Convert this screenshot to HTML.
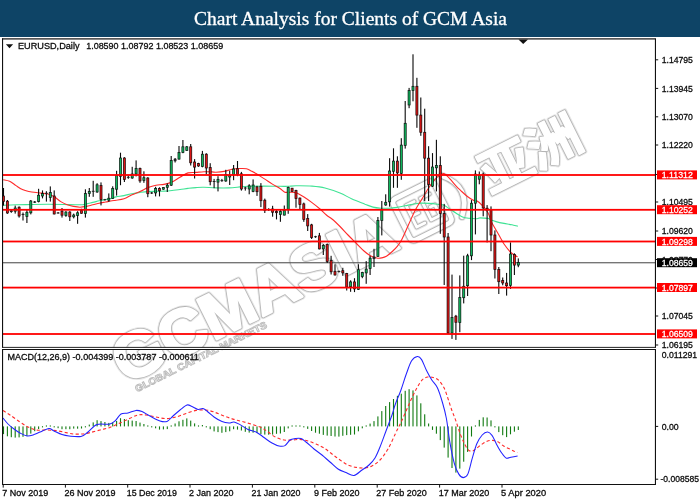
<!DOCTYPE html>
<html lang="en"><head><meta charset="utf-8"><title>Chart Analysis for Clients of GCM Asia</title>
<style>
html,body{margin:0;padding:0;background:#fff;}
body{width:700px;height:500px;overflow:hidden;position:relative;font-family:"Liberation Sans","Noto Sans CJK SC",sans-serif;}
#hdr{position:absolute;left:0;top:0;width:700px;height:36.6px;background:#0e4466;}
svg{position:absolute;left:0;top:0;}
.ax{font-family:"Liberation Sans",sans-serif;font-size:8.6px;fill:#0c0c0c;stroke:#0c0c0c;stroke-width:0.28px;}
.t{font-family:"Liberation Serif",serif;font-size:19px;fill:#fff;stroke:#fff;stroke-width:0.3px;}
.wm{font-family:"Liberation Sans","Noto Sans CJK TC",sans-serif;font-weight:bold;}
.cj{font-family:"Noto Sans CJK SC","Noto Sans CJK TC",sans-serif;font-weight:700;}
</style></head><body>
<div id="hdr"></div>
<svg width="700" height="500" viewBox="0 0 700 500">

<text class="t" x="194" y="25" textLength="313" lengthAdjust="spacingAndGlyphs">Chart Analysis for Clients of GCM Asia</text>
<g class="wm" transform="translate(125.5,384.6) rotate(-26.5)">
<g fill="none" stroke="#e6e6e6" stroke-linejoin="round">
<text x="0" y="0" font-size="63.5" stroke-width="6" textLength="308" lengthAdjust="spacingAndGlyphs">GCMASIA</text>
<text class="cj" x="0" y="-8" font-size="50" stroke-width="4.6" text-anchor="middle" transform="translate(438,0) scale(1.07,1)">亚</text>
<text class="cj" x="0" y="-8" font-size="50" stroke-width="4.6" text-anchor="middle" transform="translate(491.5,0) scale(1.09,1)">洲</text>
</g>
<path d="M325,-46 H361 Q366,-46 366,-41 V-5 Q366,0 361,0 H325 Q320,0 320,-5 V-41 Q320,-46 325,-46 Z" fill="none" stroke="#e6e6e6" stroke-width="8.2" stroke-linecap="round" stroke-linejoin="round"/>
<path d="M340,-35 H331 V-11 H340 M331,-23 H339" fill="none" stroke="#e6e6e6" stroke-width="6.4" stroke-linecap="round" stroke-linejoin="round"/>
<path d="M357,-35 H347 V-11 H357 V-23 H352" fill="none" stroke="#e6e6e6" stroke-width="6.4" stroke-linecap="round" stroke-linejoin="round"/>
<path d="M376,-46 Q398,-23 376,0" fill="none" stroke="#e6e6e6" stroke-width="8.2" stroke-linecap="round" stroke-linejoin="round"/>
<g fill="none" stroke="#b4b4b4" stroke-linejoin="round">
<text x="0" y="0" font-size="63.5" stroke-width="4.2" textLength="308" lengthAdjust="spacingAndGlyphs">GCMASIA</text>
<text class="cj" x="0" y="-8" font-size="50" stroke-width="2.8" text-anchor="middle" transform="translate(438,0) scale(1.07,1)">亚</text>
<text class="cj" x="0" y="-8" font-size="50" stroke-width="2.8" text-anchor="middle" transform="translate(491.5,0) scale(1.09,1)">洲</text>
</g>
<path d="M325,-46 H361 Q366,-46 366,-41 V-5 Q366,0 361,0 H325 Q320,0 320,-5 V-41 Q320,-46 325,-46 Z" fill="none" stroke="#b4b4b4" stroke-width="6.4" stroke-linecap="round" stroke-linejoin="round"/>
<path d="M340,-35 H331 V-11 H340 M331,-23 H339" fill="none" stroke="#b4b4b4" stroke-width="4.6" stroke-linecap="round" stroke-linejoin="round"/>
<path d="M357,-35 H347 V-11 H357 V-23 H352" fill="none" stroke="#b4b4b4" stroke-width="4.6" stroke-linecap="round" stroke-linejoin="round"/>
<path d="M376,-46 Q398,-23 376,0" fill="none" stroke="#b4b4b4" stroke-width="6.4" stroke-linecap="round" stroke-linejoin="round"/>
<g fill="#fff" stroke="#fff" stroke-linejoin="round">
<text x="0" y="0" font-size="63.5" stroke-width="2.6" textLength="308" lengthAdjust="spacingAndGlyphs">GCMASIA</text>
<text class="cj" x="0" y="-8" font-size="50" stroke-width="1.2" text-anchor="middle" transform="translate(438,0) scale(1.07,1)">亚</text>
<text class="cj" x="0" y="-8" font-size="50" stroke-width="1.2" text-anchor="middle" transform="translate(491.5,0) scale(1.09,1)">洲</text>
</g>
<path d="M325,-46 H361 Q366,-46 366,-41 V-5 Q366,0 361,0 H325 Q320,0 320,-5 V-41 Q320,-46 325,-46 Z" fill="none" stroke="#fff" stroke-width="4.6" stroke-linecap="round" stroke-linejoin="round"/>
<path d="M340,-35 H331 V-11 H340 M331,-23 H339" fill="none" stroke="#fff" stroke-width="2.8" stroke-linecap="round" stroke-linejoin="round"/>
<path d="M357,-35 H347 V-11 H357 V-23 H352" fill="none" stroke="#fff" stroke-width="2.8" stroke-linecap="round" stroke-linejoin="round"/>
<path d="M376,-46 Q398,-23 376,0" fill="none" stroke="#fff" stroke-width="4.6" stroke-linecap="round" stroke-linejoin="round"/>
<text x="7" y="12" font-size="9.5" fill="#fff" stroke="#bdbdbd" stroke-width="0.9" textLength="146" lengthAdjust="spacingAndGlyphs">GLOBAL CAPITAL MARKETS</text>
</g>
<path d="M3.2,205.3 C5.3,205.2 11.2,204.9 16.0,204.8 C20.8,204.7 26.7,204.6 32.0,204.5 C37.3,204.4 42.7,204.3 48.0,204.3 C53.3,204.3 58.7,204.4 64.0,204.5 C69.3,204.6 76.3,204.9 80.0,204.8 C83.7,204.7 84.3,204.4 86.4,204.0 C88.5,203.6 90.7,202.9 92.8,202.4 C94.9,201.9 97.1,201.3 99.2,200.8 C101.3,200.3 103.5,199.9 105.6,199.5 C107.7,199.1 110.3,198.6 112.0,198.2 C113.7,197.8 114.0,197.3 116.0,196.9 C118.0,196.5 121.3,196.1 124.0,195.6 C126.7,195.1 129.3,194.2 132.0,193.7 C134.7,193.2 137.3,192.8 140.0,192.4 C142.7,192.1 145.3,191.8 148.0,191.6 C150.7,191.4 153.3,191.4 156.0,191.3 C158.7,191.2 161.3,191.2 164.0,191.1 C166.7,191.0 169.3,190.8 172.0,190.5 C174.7,190.2 177.3,189.8 180.0,189.5 C182.7,189.2 185.3,188.7 188.0,188.4 C190.7,188.1 193.3,187.8 196.0,187.6 C198.7,187.4 200.7,187.2 204.0,187.3 C207.3,187.4 211.9,187.8 216.0,187.9 C220.1,188.0 224.8,188.1 228.8,187.9 C232.8,187.7 236.8,187.2 240.0,186.9 C243.2,186.6 244.0,186.4 248.0,186.3 C252.0,186.2 258.7,186.1 264.0,186.1 C269.3,186.1 276.0,186.3 280.0,186.3 C284.0,186.3 285.3,186.4 288.0,186.3 C290.7,186.2 292.0,185.8 296.0,185.8 C300.0,185.8 307.2,185.7 312.0,186.1 C316.8,186.5 320.3,186.8 325.0,188.0 C329.7,189.2 335.5,191.2 340.0,193.0 C344.5,194.8 347.8,197.1 352.0,199.0 C356.2,200.9 361.5,202.8 365.0,204.2 C368.5,205.5 370.3,206.4 373.0,207.1 C375.7,207.8 378.3,208.0 381.0,208.2 C383.7,208.4 386.3,208.3 389.0,208.2 C391.7,208.1 394.3,207.8 397.0,207.4 C399.7,207.0 402.3,206.3 405.0,205.8 C407.7,205.3 410.3,204.6 413.0,204.2 C415.7,203.8 418.3,203.2 421.0,203.1 C423.7,203.0 426.3,203.2 429.0,203.4 C431.7,203.6 434.6,203.9 437.0,204.2 C439.4,204.5 441.3,204.2 443.4,205.0 C445.5,205.8 447.7,207.6 449.8,209.0 C451.9,210.4 454.1,212.0 456.2,213.3 C458.3,214.6 460.5,216.2 462.6,217.0 C464.7,217.8 466.6,218.0 469.0,218.3 C471.4,218.6 475.2,218.8 477.0,218.7 C478.8,218.6 478.2,217.9 480.0,217.9 C481.8,217.9 486.1,218.1 488.0,218.4 C489.9,218.8 489.9,219.5 491.2,220.0 C492.5,220.5 493.9,221.0 496.0,221.6 C498.1,222.2 501.3,222.9 504.0,223.4 C506.7,223.9 509.7,224.3 512.0,224.8 C514.3,225.3 516.9,226.1 517.9,226.3" fill="none" stroke="#3fe394" stroke-width="1.1" stroke-linejoin="round"/>
<path d="M3.2,179.7 C4.3,180.0 7.5,180.3 9.6,181.3 C11.7,182.3 13.9,184.2 16.0,185.6 C18.1,187.0 20.3,188.6 22.4,189.6 C24.5,190.6 26.1,191.0 28.8,191.5 C31.5,192.0 35.2,192.4 38.4,192.8 C41.6,193.2 45.3,193.3 48.0,194.0 C50.7,194.7 52.3,195.5 54.4,196.8 C56.5,198.1 58.7,200.3 60.8,201.6 C62.9,202.9 65.1,204.0 67.2,204.8 C69.3,205.6 71.5,206.0 73.6,206.4 C75.7,206.8 77.9,207.2 80.0,207.2 C82.1,207.2 84.3,206.8 86.4,206.4 C88.5,206.0 90.7,205.3 92.8,204.8 C94.9,204.3 97.1,203.7 99.2,203.2 C101.3,202.7 103.5,202.4 105.6,202.0 C107.7,201.6 110.3,201.0 112.0,200.7 C113.7,200.4 114.0,200.5 116.0,200.2 C118.0,199.9 121.3,199.7 124.0,198.8 C126.7,197.9 129.3,196.0 132.0,194.8 C134.7,193.6 137.3,192.8 140.0,191.6 C142.7,190.4 145.3,188.7 148.0,187.6 C150.7,186.5 153.3,185.7 156.0,185.2 C158.7,184.7 161.3,184.9 164.0,184.4 C166.7,183.9 169.3,183.2 172.0,182.0 C174.7,180.8 177.3,178.7 180.0,177.2 C182.7,175.7 185.3,173.7 188.0,172.9 C190.7,172.1 193.3,172.6 196.0,172.4 C198.7,172.2 201.3,171.9 204.0,171.8 C206.7,171.7 210.0,171.8 212.0,171.9 C214.0,172.0 214.0,172.3 216.0,172.2 C218.0,172.1 221.3,171.9 224.0,171.4 C226.7,170.9 229.3,169.8 232.0,169.3 C234.7,168.8 237.6,168.6 240.0,168.5 C242.4,168.4 244.5,168.3 246.4,168.7 C248.3,169.1 249.6,170.1 251.2,170.9 C252.8,171.7 253.9,172.2 256.0,173.5 C258.1,174.8 261.3,176.9 264.0,178.6 C266.7,180.3 269.3,182.2 272.0,183.9 C274.7,185.6 277.9,187.1 280.0,188.5 C282.1,189.9 283.2,191.6 284.8,192.2 C286.4,192.8 287.7,192.1 289.6,192.2 C291.5,192.3 293.6,191.9 296.0,192.7 C298.4,193.5 301.3,195.3 304.0,197.0 C306.7,198.7 309.3,200.6 312.0,202.6 C314.7,204.6 317.6,206.9 320.0,209.0 C322.4,211.1 324.4,213.3 326.4,215.0 C328.4,216.7 329.7,217.1 332.0,219.0 C334.3,220.9 337.3,223.8 340.0,226.5 C342.7,229.2 345.3,232.2 348.0,235.0 C350.7,237.8 353.3,240.3 356.0,243.0 C358.7,245.7 361.6,248.9 364.0,251.0 C366.4,253.1 368.3,254.6 370.4,255.8 C372.5,257.0 374.9,257.6 376.8,258.0 C378.7,258.4 380.0,258.2 381.6,257.9 C383.2,257.6 384.5,257.4 386.4,256.3 C388.3,255.2 391.0,252.6 392.8,251.0 C394.6,249.4 395.5,248.5 397.0,246.6 C398.5,244.7 399.9,243.0 401.8,239.4 C403.7,235.8 406.1,230.0 408.4,225.0 C410.7,220.0 413.4,213.8 415.6,209.6 C417.8,205.4 419.4,203.2 421.6,199.6 C423.8,196.0 426.6,191.1 428.8,187.8 C431.0,184.5 433.0,181.7 434.8,179.6 C436.6,177.5 438.1,176.2 439.6,175.2 C441.1,174.2 442.4,173.5 443.6,173.6 C444.8,173.7 445.9,174.8 447.0,175.8 C448.1,176.8 448.8,177.6 450.4,179.4 C452.0,181.2 454.6,184.5 456.4,186.4 C458.2,188.3 459.2,189.1 461.0,190.8 C462.8,192.5 465.3,194.9 467.4,196.5 C469.5,198.1 472.2,199.8 473.8,200.5 C475.4,201.2 475.7,200.3 477.0,201.0 C478.3,201.7 479.8,202.8 481.6,204.8 C483.4,206.8 486.4,210.0 488.0,212.8 C489.6,215.6 490.1,219.2 491.2,221.6 C492.3,224.0 493.3,225.3 494.4,227.2 C495.5,229.1 496.5,230.9 497.6,232.8 C498.7,234.7 499.7,236.5 500.8,238.4 C501.9,240.3 502.4,241.7 504.0,244.0 C505.6,246.3 508.5,250.1 510.4,252.0 C512.3,253.9 514.0,254.7 515.2,255.5 C516.4,256.3 517.2,256.6 517.6,256.8" fill="none" stroke="#ff2a2a" stroke-width="1.1" stroke-linejoin="round"/>
<rect x="3" y="262.2" width="652" height="1.1" fill="#555"/>
<g>
<rect x="2.95" y="188.0" width="1.1" height="17.6" fill="#0a0a0a"/>
<rect x="2.45" y="196.0" width="2.1" height="5.6" fill="#e01616" stroke="#000" stroke-opacity="0.85" stroke-width="0.75"/>
<rect x="6.85" y="200.0" width="1.1" height="13.8" fill="#0a0a0a"/>
<rect x="6.35" y="201.2" width="2.1" height="11.8" fill="#e01616" stroke="#000" stroke-opacity="0.85" stroke-width="0.75"/>
<rect x="10.75" y="209.6" width="1.1" height="3.2" fill="#0a0a0a"/>
<rect x="9.90" y="210.4" width="2.8" height="1.6" fill="#222"/>
<rect x="14.65" y="205.6" width="1.1" height="8.0" fill="#0a0a0a"/>
<rect x="14.15" y="208.0" width="2.1" height="3.2" fill="#10b85e" stroke="#000" stroke-opacity="0.85" stroke-width="0.75"/>
<rect x="18.55" y="206.4" width="1.1" height="11.2" fill="#0a0a0a"/>
<rect x="18.05" y="207.2" width="2.1" height="8.8" fill="#e01616" stroke="#000" stroke-opacity="0.85" stroke-width="0.75"/>
<rect x="22.45" y="212.5" width="1.1" height="8.0" fill="#0a0a0a"/>
<rect x="21.60" y="214.0" width="2.8" height="1.0" fill="#222"/>
<rect x="26.35" y="210.0" width="1.1" height="13.0" fill="#0a0a0a"/>
<rect x="25.85" y="212.3" width="2.1" height="4.2" fill="#10b85e" stroke="#000" stroke-opacity="0.85" stroke-width="0.75"/>
<rect x="30.25" y="200.0" width="1.1" height="14.4" fill="#0a0a0a"/>
<rect x="29.75" y="201.0" width="2.1" height="11.8" fill="#10b85e" stroke="#000" stroke-opacity="0.85" stroke-width="0.75"/>
<rect x="34.15" y="201.0" width="1.1" height="2.0" fill="#0a0a0a"/>
<rect x="33.30" y="201.5" width="2.8" height="1.2" fill="#222"/>
<rect x="38.05" y="188.8" width="1.1" height="13.6" fill="#0a0a0a"/>
<rect x="37.55" y="195.2" width="2.1" height="6.4" fill="#10b85e" stroke="#000" stroke-opacity="0.85" stroke-width="0.75"/>
<rect x="41.95" y="190.4" width="1.1" height="8.0" fill="#0a0a0a"/>
<rect x="41.45" y="193.6" width="2.1" height="2.4" fill="#10b85e" stroke="#000" stroke-opacity="0.85" stroke-width="0.75"/>
<rect x="45.85" y="191.2" width="1.1" height="10.4" fill="#0a0a0a"/>
<rect x="45.00" y="192.8" width="2.8" height="1.0" fill="#222"/>
<rect x="49.75" y="186.4" width="1.1" height="15.2" fill="#0a0a0a"/>
<rect x="49.25" y="192.4" width="2.1" height="5.2" fill="#10b85e" stroke="#000" stroke-opacity="0.85" stroke-width="0.75"/>
<rect x="53.65" y="190.4" width="1.1" height="24.0" fill="#0a0a0a"/>
<rect x="53.15" y="196.0" width="2.1" height="18.0" fill="#e01616" stroke="#000" stroke-opacity="0.85" stroke-width="0.75"/>
<rect x="57.55" y="212.0" width="1.1" height="1.6" fill="#0a0a0a"/>
<rect x="56.70" y="212.5" width="2.8" height="1.0" fill="#222"/>
<rect x="61.45" y="208.0" width="1.1" height="9.6" fill="#0a0a0a"/>
<rect x="60.95" y="211.2" width="2.1" height="4.0" fill="#e01616" stroke="#000" stroke-opacity="0.85" stroke-width="0.75"/>
<rect x="65.35" y="211.2" width="1.1" height="5.6" fill="#0a0a0a"/>
<rect x="64.85" y="212.0" width="2.1" height="3.5" fill="#10b85e" stroke="#000" stroke-opacity="0.85" stroke-width="0.75"/>
<rect x="69.25" y="211.2" width="1.1" height="9.8" fill="#0a0a0a"/>
<rect x="68.75" y="212.0" width="2.1" height="4.8" fill="#e01616" stroke="#000" stroke-opacity="0.85" stroke-width="0.75"/>
<rect x="73.15" y="213.6" width="1.1" height="4.8" fill="#0a0a0a"/>
<rect x="72.65" y="215.0" width="2.1" height="1.8" fill="#10b85e" stroke="#000" stroke-opacity="0.85" stroke-width="0.75"/>
<rect x="77.05" y="211.2" width="1.1" height="12.6" fill="#0a0a0a"/>
<rect x="76.55" y="212.8" width="2.1" height="2.7" fill="#10b85e" stroke="#000" stroke-opacity="0.85" stroke-width="0.75"/>
<rect x="80.95" y="208.8" width="1.1" height="4.8" fill="#0a0a0a"/>
<rect x="80.45" y="210.4" width="2.1" height="2.9" fill="#e01616" stroke="#000" stroke-opacity="0.85" stroke-width="0.75"/>
<rect x="84.85" y="189.3" width="1.1" height="28.3" fill="#0a0a0a"/>
<rect x="84.35" y="193.6" width="2.1" height="20.0" fill="#10b85e" stroke="#000" stroke-opacity="0.85" stroke-width="0.75"/>
<rect x="88.75" y="188.0" width="1.1" height="8.8" fill="#0a0a0a"/>
<rect x="88.25" y="191.5" width="2.1" height="2.1" fill="#10b85e" stroke="#000" stroke-opacity="0.85" stroke-width="0.75"/>
<rect x="92.65" y="180.8" width="1.1" height="16.0" fill="#0a0a0a"/>
<rect x="91.80" y="190.8" width="2.8" height="1.0" fill="#222"/>
<rect x="96.55" y="183.2" width="1.1" height="9.6" fill="#0a0a0a"/>
<rect x="96.05" y="184.8" width="2.1" height="7.2" fill="#10b85e" stroke="#000" stroke-opacity="0.85" stroke-width="0.75"/>
<rect x="100.45" y="182.4" width="1.1" height="23.0" fill="#0a0a0a"/>
<rect x="99.95" y="185.6" width="2.1" height="14.0" fill="#e01616" stroke="#000" stroke-opacity="0.85" stroke-width="0.75"/>
<rect x="104.35" y="198.9" width="1.1" height="1.6" fill="#0a0a0a"/>
<rect x="103.50" y="199.2" width="2.8" height="1.0" fill="#222"/>
<rect x="108.25" y="193.4" width="1.1" height="8.4" fill="#0a0a0a"/>
<rect x="107.75" y="198.2" width="2.1" height="2.0" fill="#10b85e" stroke="#000" stroke-opacity="0.85" stroke-width="0.75"/>
<rect x="112.15" y="186.3" width="1.1" height="12.5" fill="#0a0a0a"/>
<rect x="111.65" y="188.4" width="2.1" height="10.1" fill="#10b85e" stroke="#000" stroke-opacity="0.85" stroke-width="0.75"/>
<rect x="116.05" y="170.8" width="1.1" height="24.8" fill="#0a0a0a"/>
<rect x="115.55" y="175.6" width="2.1" height="13.6" fill="#10b85e" stroke="#000" stroke-opacity="0.85" stroke-width="0.75"/>
<rect x="119.95" y="152.7" width="1.1" height="32.5" fill="#0a0a0a"/>
<rect x="119.45" y="158.0" width="2.1" height="18.4" fill="#10b85e" stroke="#000" stroke-opacity="0.85" stroke-width="0.75"/>
<rect x="123.85" y="157.2" width="1.1" height="24.8" fill="#0a0a0a"/>
<rect x="123.35" y="158.0" width="2.1" height="21.6" fill="#e01616" stroke="#000" stroke-opacity="0.85" stroke-width="0.75"/>
<rect x="127.75" y="175.6" width="1.1" height="3.2" fill="#0a0a0a"/>
<rect x="126.90" y="176.8" width="2.8" height="1.0" fill="#222"/>
<rect x="131.65" y="166.8" width="1.1" height="12.0" fill="#0a0a0a"/>
<rect x="131.15" y="174.0" width="2.1" height="4.0" fill="#10b85e" stroke="#000" stroke-opacity="0.85" stroke-width="0.75"/>
<rect x="135.55" y="160.4" width="1.1" height="16.0" fill="#0a0a0a"/>
<rect x="135.05" y="168.4" width="2.1" height="5.6" fill="#10b85e" stroke="#000" stroke-opacity="0.85" stroke-width="0.75"/>
<rect x="139.45" y="167.6" width="1.1" height="15.2" fill="#0a0a0a"/>
<rect x="138.95" y="168.4" width="2.1" height="12.5" fill="#e01616" stroke="#000" stroke-opacity="0.85" stroke-width="0.75"/>
<rect x="143.35" y="171.3" width="1.1" height="11.5" fill="#0a0a0a"/>
<rect x="142.85" y="177.7" width="2.1" height="2.7" fill="#10b85e" stroke="#000" stroke-opacity="0.85" stroke-width="0.75"/>
<rect x="147.25" y="177.2" width="1.1" height="20.0" fill="#0a0a0a"/>
<rect x="146.75" y="178.0" width="2.1" height="15.7" fill="#e01616" stroke="#000" stroke-opacity="0.85" stroke-width="0.75"/>
<rect x="151.15" y="192.0" width="1.1" height="2.0" fill="#0a0a0a"/>
<rect x="150.30" y="192.5" width="2.8" height="1.0" fill="#222"/>
<rect x="155.05" y="186.8" width="1.1" height="9.6" fill="#0a0a0a"/>
<rect x="154.55" y="188.4" width="2.1" height="4.5" fill="#10b85e" stroke="#000" stroke-opacity="0.85" stroke-width="0.75"/>
<rect x="158.95" y="187.3" width="1.1" height="9.1" fill="#0a0a0a"/>
<rect x="158.45" y="188.4" width="2.1" height="2.4" fill="#e01616" stroke="#000" stroke-opacity="0.85" stroke-width="0.75"/>
<rect x="162.85" y="187.3" width="1.1" height="2.4" fill="#0a0a0a"/>
<rect x="162.35" y="187.6" width="2.1" height="1.6" fill="#10b85e" stroke="#000" stroke-opacity="0.85" stroke-width="0.75"/>
<rect x="166.75" y="183.3" width="1.1" height="8.7" fill="#0a0a0a"/>
<rect x="166.25" y="185.2" width="2.1" height="2.1" fill="#10b85e" stroke="#000" stroke-opacity="0.85" stroke-width="0.75"/>
<rect x="170.65" y="156.0" width="1.1" height="30.0" fill="#0a0a0a"/>
<rect x="170.15" y="160.4" width="2.1" height="24.8" fill="#10b85e" stroke="#000" stroke-opacity="0.85" stroke-width="0.75"/>
<rect x="174.55" y="158.0" width="1.1" height="4.5" fill="#0a0a0a"/>
<rect x="173.70" y="158.8" width="2.8" height="2.4" fill="#222"/>
<rect x="178.45" y="146.0" width="1.1" height="13.6" fill="#0a0a0a"/>
<rect x="177.95" y="152.4" width="2.1" height="6.7" fill="#10b85e" stroke="#000" stroke-opacity="0.85" stroke-width="0.75"/>
<rect x="182.35" y="140.0" width="1.1" height="13.2" fill="#0a0a0a"/>
<rect x="181.85" y="146.8" width="2.1" height="5.6" fill="#10b85e" stroke="#000" stroke-opacity="0.85" stroke-width="0.75"/>
<rect x="186.25" y="146.0" width="1.1" height="4.8" fill="#0a0a0a"/>
<rect x="185.75" y="146.8" width="2.1" height="3.7" fill="#10b85e" stroke="#000" stroke-opacity="0.85" stroke-width="0.75"/>
<rect x="190.15" y="144.0" width="1.1" height="21.5" fill="#0a0a0a"/>
<rect x="189.65" y="146.8" width="2.1" height="16.0" fill="#e01616" stroke="#000" stroke-opacity="0.85" stroke-width="0.75"/>
<rect x="194.05" y="159.1" width="1.1" height="19.4" fill="#0a0a0a"/>
<rect x="193.55" y="162.0" width="2.1" height="5.1" fill="#e01616" stroke="#000" stroke-opacity="0.85" stroke-width="0.75"/>
<rect x="197.95" y="162.8" width="1.1" height="4.0" fill="#0a0a0a"/>
<rect x="197.45" y="163.6" width="2.1" height="2.4" fill="#e01616" stroke="#000" stroke-opacity="0.85" stroke-width="0.75"/>
<rect x="201.85" y="150.9" width="1.1" height="16.4" fill="#0a0a0a"/>
<rect x="201.35" y="154.2" width="2.1" height="12.4" fill="#10b85e" stroke="#000" stroke-opacity="0.85" stroke-width="0.75"/>
<rect x="205.75" y="153.2" width="1.1" height="21.1" fill="#0a0a0a"/>
<rect x="205.25" y="154.2" width="2.1" height="13.8" fill="#e01616" stroke="#000" stroke-opacity="0.85" stroke-width="0.75"/>
<rect x="209.65" y="163.2" width="1.1" height="22.1" fill="#0a0a0a"/>
<rect x="209.15" y="167.5" width="2.1" height="14.2" fill="#e01616" stroke="#000" stroke-opacity="0.85" stroke-width="0.75"/>
<rect x="213.55" y="178.9" width="1.1" height="9.3" fill="#0a0a0a"/>
<rect x="212.70" y="181.0" width="2.8" height="1.0" fill="#222"/>
<rect x="217.45" y="176.2" width="1.1" height="15.2" fill="#0a0a0a"/>
<rect x="216.95" y="179.4" width="2.1" height="2.7" fill="#10b85e" stroke="#000" stroke-opacity="0.85" stroke-width="0.75"/>
<rect x="221.35" y="178.9" width="1.1" height="2.9" fill="#0a0a0a"/>
<rect x="220.50" y="180.1" width="2.8" height="1.0" fill="#222"/>
<rect x="225.25" y="169.8" width="1.1" height="12.0" fill="#0a0a0a"/>
<rect x="224.75" y="174.6" width="2.1" height="6.4" fill="#10b85e" stroke="#000" stroke-opacity="0.85" stroke-width="0.75"/>
<rect x="229.15" y="170.6" width="1.1" height="14.4" fill="#0a0a0a"/>
<rect x="228.65" y="175.4" width="2.1" height="1.6" fill="#10b85e" stroke="#000" stroke-opacity="0.85" stroke-width="0.75"/>
<rect x="233.05" y="165.0" width="1.1" height="15.2" fill="#0a0a0a"/>
<rect x="232.55" y="169.0" width="2.1" height="5.6" fill="#10b85e" stroke="#000" stroke-opacity="0.85" stroke-width="0.75"/>
<rect x="236.95" y="161.0" width="1.1" height="15.2" fill="#0a0a0a"/>
<rect x="236.45" y="168.7" width="2.1" height="5.9" fill="#e01616" stroke="#000" stroke-opacity="0.85" stroke-width="0.75"/>
<rect x="240.85" y="171.9" width="1.1" height="18.7" fill="#0a0a0a"/>
<rect x="240.35" y="173.8" width="2.1" height="15.2" fill="#e01616" stroke="#000" stroke-opacity="0.85" stroke-width="0.75"/>
<rect x="244.75" y="186.9" width="1.1" height="3.7" fill="#0a0a0a"/>
<rect x="243.90" y="187.5" width="2.8" height="1.0" fill="#222"/>
<rect x="248.65" y="184.2" width="1.1" height="10.1" fill="#0a0a0a"/>
<rect x="248.15" y="185.8" width="2.1" height="3.2" fill="#10b85e" stroke="#000" stroke-opacity="0.85" stroke-width="0.75"/>
<rect x="252.55" y="179.4" width="1.1" height="12.8" fill="#0a0a0a"/>
<rect x="252.05" y="185.0" width="2.1" height="6.4" fill="#10b85e" stroke="#000" stroke-opacity="0.85" stroke-width="0.75"/>
<rect x="256.45" y="185.8" width="1.1" height="10.1" fill="#0a0a0a"/>
<rect x="255.95" y="186.9" width="2.1" height="4.8" fill="#e01616" stroke="#000" stroke-opacity="0.85" stroke-width="0.75"/>
<rect x="260.35" y="183.1" width="1.1" height="24.0" fill="#0a0a0a"/>
<rect x="259.85" y="186.3" width="2.1" height="14.4" fill="#e01616" stroke="#000" stroke-opacity="0.85" stroke-width="0.75"/>
<rect x="264.25" y="198.6" width="1.1" height="14.4" fill="#0a0a0a"/>
<rect x="263.75" y="200.2" width="2.1" height="10.1" fill="#e01616" stroke="#000" stroke-opacity="0.85" stroke-width="0.75"/>
<rect x="268.15" y="208.2" width="1.1" height="2.7" fill="#0a0a0a"/>
<rect x="267.30" y="209.1" width="2.8" height="1.0" fill="#222"/>
<rect x="272.05" y="205.8" width="1.1" height="10.9" fill="#0a0a0a"/>
<rect x="271.55" y="209.0" width="2.1" height="3.2" fill="#e01616" stroke="#000" stroke-opacity="0.85" stroke-width="0.75"/>
<rect x="275.95" y="209.8" width="1.1" height="9.6" fill="#0a0a0a"/>
<rect x="275.45" y="211.5" width="2.1" height="1.2" fill="#e01616" stroke="#000" stroke-opacity="0.85" stroke-width="0.75"/>
<rect x="279.85" y="209.8" width="1.1" height="12.0" fill="#0a0a0a"/>
<rect x="279.35" y="211.4" width="2.1" height="3.2" fill="#10b85e" stroke="#000" stroke-opacity="0.85" stroke-width="0.75"/>
<rect x="283.75" y="205.5" width="1.1" height="9.9" fill="#0a0a0a"/>
<rect x="283.25" y="210.3" width="2.1" height="4.8" fill="#10b85e" stroke="#000" stroke-opacity="0.85" stroke-width="0.75"/>
<rect x="287.65" y="186.6" width="1.1" height="27.2" fill="#0a0a0a"/>
<rect x="287.15" y="187.4" width="2.1" height="21.9" fill="#10b85e" stroke="#000" stroke-opacity="0.85" stroke-width="0.75"/>
<rect x="291.55" y="187.9" width="1.1" height="3.8" fill="#0a0a0a"/>
<rect x="291.05" y="188.2" width="2.1" height="3.2" fill="#e01616" stroke="#000" stroke-opacity="0.85" stroke-width="0.75"/>
<rect x="295.45" y="189.8" width="1.1" height="17.9" fill="#0a0a0a"/>
<rect x="294.95" y="190.6" width="2.1" height="8.0" fill="#e01616" stroke="#000" stroke-opacity="0.85" stroke-width="0.75"/>
<rect x="299.35" y="197.5" width="1.1" height="11.5" fill="#0a0a0a"/>
<rect x="298.85" y="198.1" width="2.1" height="6.4" fill="#e01616" stroke="#000" stroke-opacity="0.85" stroke-width="0.75"/>
<rect x="303.25" y="202.6" width="1.1" height="19.2" fill="#0a0a0a"/>
<rect x="302.75" y="203.9" width="2.1" height="15.7" fill="#e01616" stroke="#000" stroke-opacity="0.85" stroke-width="0.75"/>
<rect x="307.15" y="214.1" width="1.1" height="16.9" fill="#0a0a0a"/>
<rect x="306.65" y="218.4" width="2.1" height="7.5" fill="#e01616" stroke="#000" stroke-opacity="0.85" stroke-width="0.75"/>
<rect x="311.05" y="223.8" width="1.1" height="15.2" fill="#0a0a0a"/>
<rect x="310.55" y="224.9" width="2.1" height="12.5" fill="#e01616" stroke="#000" stroke-opacity="0.85" stroke-width="0.75"/>
<rect x="314.95" y="235.8" width="1.1" height="2.0" fill="#0a0a0a"/>
<rect x="314.10" y="236.2" width="2.8" height="1.0" fill="#222"/>
<rect x="318.85" y="232.9" width="1.1" height="16.5" fill="#0a0a0a"/>
<rect x="318.35" y="235.8" width="2.1" height="13.1" fill="#e01616" stroke="#000" stroke-opacity="0.85" stroke-width="0.75"/>
<rect x="322.75" y="244.1" width="1.1" height="10.9" fill="#0a0a0a"/>
<rect x="322.25" y="245.4" width="2.1" height="3.5" fill="#10b85e" stroke="#000" stroke-opacity="0.85" stroke-width="0.75"/>
<rect x="326.65" y="243.5" width="1.1" height="19.5" fill="#0a0a0a"/>
<rect x="326.15" y="244.6" width="2.1" height="16.8" fill="#e01616" stroke="#000" stroke-opacity="0.85" stroke-width="0.75"/>
<rect x="330.55" y="255.8" width="1.1" height="18.7" fill="#0a0a0a"/>
<rect x="330.05" y="260.6" width="2.1" height="11.2" fill="#e01616" stroke="#000" stroke-opacity="0.85" stroke-width="0.75"/>
<rect x="334.45" y="264.3" width="1.1" height="11.2" fill="#0a0a0a"/>
<rect x="333.95" y="271.3" width="2.1" height="3.7" fill="#e01616" stroke="#000" stroke-opacity="0.85" stroke-width="0.75"/>
<rect x="338.35" y="270.5" width="1.1" height="2.0" fill="#0a0a0a"/>
<rect x="337.50" y="271.0" width="2.8" height="1.0" fill="#222"/>
<rect x="342.25" y="267.8" width="1.1" height="8.0" fill="#0a0a0a"/>
<rect x="341.75" y="270.7" width="2.1" height="2.2" fill="#e01616" stroke="#000" stroke-opacity="0.85" stroke-width="0.75"/>
<rect x="346.15" y="272.9" width="1.1" height="17.6" fill="#0a0a0a"/>
<rect x="345.65" y="273.4" width="2.1" height="13.6" fill="#e01616" stroke="#000" stroke-opacity="0.85" stroke-width="0.75"/>
<rect x="350.05" y="280.3" width="1.1" height="11.5" fill="#0a0a0a"/>
<rect x="349.55" y="281.9" width="2.1" height="4.8" fill="#10b85e" stroke="#000" stroke-opacity="0.85" stroke-width="0.75"/>
<rect x="353.95" y="278.2" width="1.1" height="13.9" fill="#0a0a0a"/>
<rect x="353.45" y="281.9" width="2.1" height="7.0" fill="#e01616" stroke="#000" stroke-opacity="0.85" stroke-width="0.75"/>
<rect x="357.85" y="264.3" width="1.1" height="25.6" fill="#0a0a0a"/>
<rect x="357.35" y="269.7" width="2.1" height="19.7" fill="#10b85e" stroke="#000" stroke-opacity="0.85" stroke-width="0.75"/>
<rect x="361.75" y="271.8" width="1.1" height="6.4" fill="#0a0a0a"/>
<rect x="361.25" y="272.6" width="2.1" height="4.0" fill="#10b85e" stroke="#000" stroke-opacity="0.85" stroke-width="0.75"/>
<rect x="365.65" y="261.1" width="1.1" height="22.7" fill="#0a0a0a"/>
<rect x="365.15" y="269.1" width="2.1" height="3.8" fill="#10b85e" stroke="#000" stroke-opacity="0.85" stroke-width="0.75"/>
<rect x="369.55" y="255.8" width="1.1" height="19.2" fill="#0a0a0a"/>
<rect x="369.05" y="258.2" width="2.1" height="10.4" fill="#10b85e" stroke="#000" stroke-opacity="0.85" stroke-width="0.75"/>
<rect x="373.45" y="248.8" width="1.1" height="18.2" fill="#0a0a0a"/>
<rect x="372.60" y="256.6" width="2.8" height="2.4" fill="#222"/>
<rect x="377.35" y="217.0" width="1.1" height="39.8" fill="#0a0a0a"/>
<rect x="376.85" y="220.5" width="2.1" height="35.9" fill="#10b85e" stroke="#000" stroke-opacity="0.85" stroke-width="0.75"/>
<rect x="381.25" y="201.0" width="1.1" height="34.4" fill="#0a0a0a"/>
<rect x="380.75" y="209.8" width="2.1" height="10.7" fill="#10b85e" stroke="#000" stroke-opacity="0.85" stroke-width="0.75"/>
<rect x="385.15" y="194.3" width="1.1" height="11.5" fill="#0a0a0a"/>
<rect x="384.65" y="202.3" width="2.1" height="2.7" fill="#10b85e" stroke="#000" stroke-opacity="0.85" stroke-width="0.75"/>
<rect x="389.05" y="158.2" width="1.1" height="48.4" fill="#0a0a0a"/>
<rect x="388.55" y="171.0" width="2.1" height="30.8" fill="#10b85e" stroke="#000" stroke-opacity="0.85" stroke-width="0.75"/>
<rect x="392.95" y="148.3" width="1.1" height="39.5" fill="#0a0a0a"/>
<rect x="392.45" y="161.1" width="2.1" height="10.2" fill="#10b85e" stroke="#000" stroke-opacity="0.85" stroke-width="0.75"/>
<rect x="396.85" y="156.3" width="1.1" height="31.5" fill="#0a0a0a"/>
<rect x="396.35" y="161.1" width="2.1" height="11.8" fill="#e01616" stroke="#000" stroke-opacity="0.85" stroke-width="0.75"/>
<rect x="400.75" y="138.2" width="1.1" height="41.6" fill="#0a0a0a"/>
<rect x="400.25" y="145.1" width="2.1" height="28.3" fill="#10b85e" stroke="#000" stroke-opacity="0.85" stroke-width="0.75"/>
<rect x="404.65" y="101.0" width="1.1" height="47.6" fill="#0a0a0a"/>
<rect x="404.15" y="123.3" width="2.1" height="22.1" fill="#10b85e" stroke="#000" stroke-opacity="0.85" stroke-width="0.75"/>
<rect x="408.55" y="87.9" width="1.1" height="20.3" fill="#0a0a0a"/>
<rect x="408.05" y="90.6" width="2.1" height="14.4" fill="#10b85e" stroke="#000" stroke-opacity="0.85" stroke-width="0.75"/>
<rect x="412.45" y="54.3" width="1.1" height="47.0" fill="#0a0a0a"/>
<rect x="411.95" y="86.3" width="2.1" height="4.3" fill="#10b85e" stroke="#000" stroke-opacity="0.85" stroke-width="0.75"/>
<rect x="416.35" y="77.8" width="1.1" height="50.0" fill="#0a0a0a"/>
<rect x="415.85" y="86.3" width="2.1" height="28.8" fill="#e01616" stroke="#000" stroke-opacity="0.85" stroke-width="0.75"/>
<rect x="420.25" y="97.5" width="1.1" height="38.3" fill="#0a0a0a"/>
<rect x="419.75" y="115.1" width="2.1" height="17.2" fill="#e01616" stroke="#000" stroke-opacity="0.85" stroke-width="0.75"/>
<rect x="424.15" y="108.7" width="1.1" height="92.3" fill="#0a0a0a"/>
<rect x="423.65" y="132.3" width="2.1" height="25.9" fill="#e01616" stroke="#000" stroke-opacity="0.85" stroke-width="0.75"/>
<rect x="428.05" y="146.2" width="1.1" height="54.8" fill="#0a0a0a"/>
<rect x="427.55" y="158.2" width="2.1" height="26.4" fill="#e01616" stroke="#000" stroke-opacity="0.85" stroke-width="0.75"/>
<rect x="431.95" y="153.1" width="1.1" height="33.9" fill="#0a0a0a"/>
<rect x="431.45" y="167.0" width="2.1" height="19.2" fill="#10b85e" stroke="#000" stroke-opacity="0.85" stroke-width="0.75"/>
<rect x="435.85" y="139.8" width="1.1" height="51.6" fill="#0a0a0a"/>
<rect x="435.35" y="165.4" width="2.1" height="2.4" fill="#10b85e" stroke="#000" stroke-opacity="0.85" stroke-width="0.75"/>
<rect x="439.75" y="156.3" width="1.1" height="77.5" fill="#0a0a0a"/>
<rect x="439.25" y="165.4" width="2.1" height="48.1" fill="#e01616" stroke="#000" stroke-opacity="0.85" stroke-width="0.75"/>
<rect x="443.65" y="203.9" width="1.1" height="81.1" fill="#0a0a0a"/>
<rect x="443.15" y="213.5" width="2.1" height="23.5" fill="#e01616" stroke="#000" stroke-opacity="0.85" stroke-width="0.75"/>
<rect x="447.55" y="233.0" width="1.1" height="101.0" fill="#0a0a0a"/>
<rect x="447.05" y="237.0" width="2.1" height="96.0" fill="#e01616" stroke="#000" stroke-opacity="0.85" stroke-width="0.75"/>
<rect x="451.45" y="274.6" width="1.1" height="64.3" fill="#0a0a0a"/>
<rect x="450.95" y="317.5" width="2.1" height="15.5" fill="#10b85e" stroke="#000" stroke-opacity="0.85" stroke-width="0.75"/>
<rect x="455.35" y="314.9" width="1.1" height="25.0" fill="#0a0a0a"/>
<rect x="454.85" y="316.2" width="2.1" height="6.1" fill="#e01616" stroke="#000" stroke-opacity="0.85" stroke-width="0.75"/>
<rect x="459.25" y="275.4" width="1.1" height="56.8" fill="#0a0a0a"/>
<rect x="458.75" y="297.5" width="2.1" height="25.1" fill="#10b85e" stroke="#000" stroke-opacity="0.85" stroke-width="0.75"/>
<rect x="463.15" y="255.7" width="1.1" height="47.7" fill="#0a0a0a"/>
<rect x="462.65" y="286.3" width="2.1" height="11.4" fill="#10b85e" stroke="#000" stroke-opacity="0.85" stroke-width="0.75"/>
<rect x="467.05" y="253.8" width="1.1" height="42.2" fill="#0a0a0a"/>
<rect x="466.55" y="255.8" width="2.1" height="29.9" fill="#10b85e" stroke="#000" stroke-opacity="0.85" stroke-width="0.75"/>
<rect x="470.95" y="200.1" width="1.1" height="60.0" fill="#0a0a0a"/>
<rect x="470.45" y="203.2" width="2.1" height="52.6" fill="#10b85e" stroke="#000" stroke-opacity="0.85" stroke-width="0.75"/>
<rect x="474.85" y="170.4" width="1.1" height="64.0" fill="#0a0a0a"/>
<rect x="474.35" y="174.1" width="2.1" height="29.1" fill="#10b85e" stroke="#000" stroke-opacity="0.85" stroke-width="0.75"/>
<rect x="478.75" y="171.5" width="1.1" height="12.8" fill="#0a0a0a"/>
<rect x="478.25" y="175.2" width="2.1" height="4.0" fill="#10b85e" stroke="#000" stroke-opacity="0.85" stroke-width="0.75"/>
<rect x="482.65" y="172.5" width="1.1" height="43.8" fill="#0a0a0a"/>
<rect x="482.15" y="174.1" width="2.1" height="33.9" fill="#e01616" stroke="#000" stroke-opacity="0.85" stroke-width="0.75"/>
<rect x="486.55" y="205.1" width="1.1" height="37.3" fill="#0a0a0a"/>
<rect x="486.05" y="208.2" width="2.1" height="2.0" fill="#e01616" stroke="#000" stroke-opacity="0.85" stroke-width="0.75"/>
<rect x="490.45" y="206.4" width="1.1" height="44.8" fill="#0a0a0a"/>
<rect x="489.95" y="209.9" width="2.1" height="25.1" fill="#e01616" stroke="#000" stroke-opacity="0.85" stroke-width="0.75"/>
<rect x="494.35" y="230.4" width="1.1" height="48.1" fill="#0a0a0a"/>
<rect x="493.85" y="235.0" width="2.1" height="34.4" fill="#e01616" stroke="#000" stroke-opacity="0.85" stroke-width="0.75"/>
<rect x="498.25" y="267.0" width="1.1" height="27.0" fill="#0a0a0a"/>
<rect x="497.75" y="269.4" width="2.1" height="12.3" fill="#e01616" stroke="#000" stroke-opacity="0.85" stroke-width="0.75"/>
<rect x="502.15" y="277.5" width="1.1" height="7.8" fill="#0a0a0a"/>
<rect x="501.65" y="280.4" width="2.1" height="2.6" fill="#e01616" stroke="#000" stroke-opacity="0.85" stroke-width="0.75"/>
<rect x="506.05" y="272.9" width="1.1" height="22.7" fill="#0a0a0a"/>
<rect x="505.55" y="283.0" width="2.1" height="2.7" fill="#e01616" stroke="#000" stroke-opacity="0.85" stroke-width="0.75"/>
<rect x="509.95" y="242.4" width="1.1" height="46.5" fill="#0a0a0a"/>
<rect x="509.45" y="254.0" width="2.1" height="31.5" fill="#10b85e" stroke="#000" stroke-opacity="0.85" stroke-width="0.75"/>
<rect x="513.85" y="253.3" width="1.1" height="21.7" fill="#0a0a0a"/>
<rect x="513.35" y="254.4" width="2.1" height="10.7" fill="#e01616" stroke="#000" stroke-opacity="0.85" stroke-width="0.75"/>
<rect x="517.75" y="258.4" width="1.1" height="8.8" fill="#0a0a0a"/>
<rect x="517.25" y="262.6" width="2.1" height="2.5" fill="#10b85e" stroke="#000" stroke-opacity="0.85" stroke-width="0.75"/>
</g>
<rect x="3" y="174.1" width="652" height="1.8" fill="#ff0000"/>
<rect x="3" y="208.9" width="652" height="1.8" fill="#ff0000"/>
<rect x="3" y="240.6" width="652" height="1.8" fill="#ff0000"/>
<rect x="3" y="286.7" width="652" height="1.8" fill="#ff0000"/>
<rect x="3" y="333.1" width="652" height="1.8" fill="#ff0000"/>
<g fill="#117a11">
<rect x="2.95" y="426.4" width="1.1" height="7.7"/>
<rect x="6.85" y="426.4" width="1.1" height="9.9"/>
<rect x="10.75" y="426.4" width="1.1" height="10.8"/>
<rect x="14.65" y="426.4" width="1.1" height="11.2"/>
<rect x="18.55" y="426.4" width="1.1" height="11.0"/>
<rect x="22.45" y="426.4" width="1.1" height="10.4"/>
<rect x="26.35" y="426.4" width="1.1" height="9.6"/>
<rect x="30.25" y="426.4" width="1.1" height="7.2"/>
<rect x="34.15" y="426.4" width="1.1" height="4.8"/>
<rect x="38.05" y="426.4" width="1.1" height="2.6"/>
<rect x="41.95" y="426.2" width="1.1" height="1.2"/>
<rect x="45.85" y="425.4" width="1.1" height="1.2"/>
<rect x="49.75" y="425.4" width="1.1" height="1.2"/>
<rect x="53.65" y="426.2" width="1.1" height="1.2"/>
<rect x="57.55" y="426.4" width="1.1" height="1.8"/>
<rect x="61.45" y="426.4" width="1.1" height="2.8"/>
<rect x="65.35" y="426.4" width="1.1" height="2.8"/>
<rect x="69.25" y="426.4" width="1.1" height="2.8"/>
<rect x="73.15" y="426.4" width="1.1" height="2.2"/>
<rect x="77.05" y="426.4" width="1.1" height="2.3"/>
<rect x="80.95" y="426.4" width="1.1" height="2.1"/>
<rect x="84.85" y="426.2" width="1.1" height="1.2"/>
<rect x="88.75" y="424.6" width="1.1" height="1.8"/>
<rect x="92.65" y="422.4" width="1.1" height="4.0"/>
<rect x="96.55" y="420.2" width="1.1" height="6.2"/>
<rect x="100.45" y="421.1" width="1.1" height="5.3"/>
<rect x="104.35" y="422.0" width="1.1" height="4.4"/>
<rect x="108.25" y="422.9" width="1.1" height="3.5"/>
<rect x="112.15" y="422.4" width="1.1" height="4.0"/>
<rect x="116.05" y="421.0" width="1.1" height="5.4"/>
<rect x="119.95" y="418.2" width="1.1" height="8.2"/>
<rect x="123.85" y="419.0" width="1.1" height="7.4"/>
<rect x="127.75" y="420.2" width="1.1" height="6.2"/>
<rect x="131.65" y="420.6" width="1.1" height="5.8"/>
<rect x="135.55" y="421.0" width="1.1" height="5.4"/>
<rect x="139.45" y="422.6" width="1.1" height="3.8"/>
<rect x="143.35" y="424.0" width="1.1" height="2.4"/>
<rect x="147.25" y="425.4" width="1.1" height="1.2"/>
<rect x="151.15" y="426.2" width="1.1" height="1.2"/>
<rect x="155.05" y="426.4" width="1.1" height="1.9"/>
<rect x="158.95" y="426.4" width="1.1" height="3.2"/>
<rect x="162.85" y="426.4" width="1.1" height="3.0"/>
<rect x="166.75" y="426.4" width="1.1" height="2.7"/>
<rect x="170.65" y="425.4" width="1.1" height="1.2"/>
<rect x="174.55" y="423.5" width="1.1" height="2.9"/>
<rect x="178.45" y="421.3" width="1.1" height="5.1"/>
<rect x="182.35" y="419.8" width="1.1" height="6.6"/>
<rect x="186.25" y="418.4" width="1.1" height="8.0"/>
<rect x="190.15" y="420.6" width="1.1" height="5.8"/>
<rect x="194.05" y="423.4" width="1.1" height="3.0"/>
<rect x="197.95" y="425.4" width="1.1" height="1.2"/>
<rect x="201.85" y="425.0" width="1.1" height="1.4"/>
<rect x="205.75" y="426.2" width="1.1" height="1.2"/>
<rect x="209.65" y="426.4" width="1.1" height="2.8"/>
<rect x="213.55" y="426.4" width="1.1" height="5.0"/>
<rect x="217.45" y="426.4" width="1.1" height="5.7"/>
<rect x="221.35" y="426.4" width="1.1" height="6.4"/>
<rect x="225.25" y="426.4" width="1.1" height="5.7"/>
<rect x="229.15" y="426.4" width="1.1" height="4.9"/>
<rect x="233.05" y="426.4" width="1.1" height="2.8"/>
<rect x="236.95" y="426.4" width="1.1" height="3.2"/>
<rect x="240.85" y="426.4" width="1.1" height="4.1"/>
<rect x="244.75" y="426.4" width="1.1" height="5.4"/>
<rect x="248.65" y="426.4" width="1.1" height="6.2"/>
<rect x="252.55" y="426.4" width="1.1" height="6.3"/>
<rect x="256.45" y="426.4" width="1.1" height="6.5"/>
<rect x="260.35" y="426.4" width="1.1" height="7.7"/>
<rect x="264.25" y="426.4" width="1.1" height="8.2"/>
<rect x="268.15" y="426.4" width="1.1" height="8.3"/>
<rect x="272.05" y="426.4" width="1.1" height="8.2"/>
<rect x="275.95" y="426.4" width="1.1" height="7.4"/>
<rect x="279.85" y="426.4" width="1.1" height="7.1"/>
<rect x="283.75" y="426.4" width="1.1" height="5.6"/>
<rect x="287.65" y="426.4" width="1.1" height="2.0"/>
<rect x="291.55" y="425.4" width="1.1" height="1.2"/>
<rect x="295.45" y="425.4" width="1.1" height="1.2"/>
<rect x="299.35" y="425.4" width="1.1" height="1.2"/>
<rect x="303.25" y="426.2" width="1.1" height="1.2"/>
<rect x="307.15" y="426.4" width="1.1" height="2.5"/>
<rect x="311.05" y="426.4" width="1.1" height="4.6"/>
<rect x="314.95" y="426.4" width="1.1" height="6.3"/>
<rect x="318.85" y="426.4" width="1.1" height="7.3"/>
<rect x="322.75" y="426.4" width="1.1" height="8.5"/>
<rect x="326.65" y="426.4" width="1.1" height="9.2"/>
<rect x="330.55" y="426.4" width="1.1" height="9.6"/>
<rect x="334.45" y="426.4" width="1.1" height="10.1"/>
<rect x="338.35" y="426.4" width="1.1" height="10.2"/>
<rect x="342.25" y="426.4" width="1.1" height="9.4"/>
<rect x="346.15" y="426.4" width="1.1" height="8.7"/>
<rect x="350.05" y="426.4" width="1.1" height="8.4"/>
<rect x="353.95" y="426.4" width="1.1" height="8.1"/>
<rect x="357.85" y="426.4" width="1.1" height="4.9"/>
<rect x="361.75" y="426.4" width="1.1" height="1.9"/>
<rect x="365.65" y="425.4" width="1.1" height="1.2"/>
<rect x="369.55" y="423.6" width="1.1" height="2.8"/>
<rect x="373.45" y="421.1" width="1.1" height="5.3"/>
<rect x="377.35" y="416.4" width="1.1" height="10.0"/>
<rect x="381.25" y="411.1" width="1.1" height="15.3"/>
<rect x="385.15" y="406.0" width="1.1" height="20.4"/>
<rect x="389.05" y="402.1" width="1.1" height="24.3"/>
<rect x="392.95" y="399.0" width="1.1" height="27.4"/>
<rect x="396.85" y="395.8" width="1.1" height="30.6"/>
<rect x="400.75" y="393.7" width="1.1" height="32.7"/>
<rect x="404.65" y="390.8" width="1.1" height="35.6"/>
<rect x="408.55" y="389.2" width="1.1" height="37.2"/>
<rect x="412.45" y="390.4" width="1.1" height="36.0"/>
<rect x="416.35" y="395.4" width="1.1" height="31.0"/>
<rect x="420.25" y="403.3" width="1.1" height="23.1"/>
<rect x="424.15" y="414.3" width="1.1" height="12.1"/>
<rect x="428.05" y="423.5" width="1.1" height="2.9"/>
<rect x="431.95" y="426.4" width="1.1" height="3.5"/>
<rect x="435.85" y="426.4" width="1.1" height="7.3"/>
<rect x="439.75" y="426.4" width="1.1" height="13.7"/>
<rect x="443.65" y="426.4" width="1.1" height="21.2"/>
<rect x="447.55" y="426.4" width="1.1" height="31.2"/>
<rect x="451.45" y="426.4" width="1.1" height="41.6"/>
<rect x="455.35" y="426.4" width="1.1" height="46.2"/>
<rect x="459.25" y="426.4" width="1.1" height="42.2"/>
<rect x="463.15" y="426.4" width="1.1" height="35.3"/>
<rect x="467.05" y="426.4" width="1.1" height="25.5"/>
<rect x="470.95" y="426.4" width="1.1" height="10.1"/>
<rect x="474.85" y="425.4" width="1.1" height="1.2"/>
<rect x="478.75" y="419.9" width="1.1" height="6.5"/>
<rect x="482.65" y="417.3" width="1.1" height="9.1"/>
<rect x="486.55" y="417.5" width="1.1" height="8.9"/>
<rect x="490.45" y="420.4" width="1.1" height="6.0"/>
<rect x="494.35" y="426.2" width="1.1" height="1.2"/>
<rect x="498.25" y="426.4" width="1.1" height="5.7"/>
<rect x="502.15" y="426.4" width="1.1" height="8.8"/>
<rect x="506.05" y="426.4" width="1.1" height="10.7"/>
<rect x="509.95" y="426.4" width="1.1" height="7.9"/>
<rect x="513.85" y="426.4" width="1.1" height="5.3"/>
<rect x="517.75" y="426.4" width="1.1" height="3.6"/>
</g>
<path d="M3.0,410.6 C4.2,411.3 7.2,413.1 10.0,415.0 C12.8,416.9 17.0,420.0 20.0,422.0 C23.0,424.0 25.3,425.7 28.0,427.0 C30.7,428.3 33.0,429.5 36.0,430.0 C39.0,430.5 42.7,429.9 46.0,430.0 C49.3,430.1 52.7,430.2 56.0,430.6 C59.3,431.0 63.0,432.0 66.0,432.6 C69.0,433.2 71.3,433.8 74.0,434.0 C76.7,434.2 79.3,434.2 82.0,434.0 C84.7,433.8 87.0,433.3 90.0,432.6 C93.0,431.9 96.7,430.9 100.0,430.0 C103.3,429.1 106.7,428.6 110.0,427.4 C113.3,426.2 116.7,424.5 120.0,423.0 C123.3,421.5 127.0,419.6 130.0,418.3 C133.0,417.0 135.3,415.6 138.0,415.0 C140.7,414.4 143.0,414.7 146.0,415.0 C149.0,415.3 152.7,416.4 156.0,417.0 C159.3,417.6 162.7,418.6 166.0,418.6 C169.3,418.6 172.7,417.9 176.0,417.0 C179.3,416.1 182.7,414.5 186.0,413.4 C189.3,412.3 192.7,411.0 196.0,410.4 C199.3,409.8 203.0,409.7 206.0,410.0 C209.0,410.3 211.0,411.0 214.0,412.0 C217.0,413.0 220.7,414.8 224.0,416.0 C227.3,417.2 230.7,418.4 234.0,419.4 C237.3,420.4 240.7,421.1 244.0,422.0 C247.3,422.9 251.0,424.0 254.0,425.0 C257.0,426.0 259.7,426.8 262.0,428.0 C264.3,429.2 265.7,430.4 268.0,432.0 C270.3,433.6 273.3,436.1 276.0,437.4 C278.7,438.7 281.3,439.6 284.0,440.0 C286.7,440.4 289.3,440.1 292.0,440.0 C294.7,439.9 297.3,439.2 300.0,439.4 C302.7,439.6 305.3,440.2 308.0,441.0 C310.7,441.8 313.3,442.8 316.0,444.0 C318.7,445.2 321.3,446.3 324.0,448.0 C326.7,449.7 329.3,452.0 332.0,454.0 C334.7,456.0 337.3,458.2 340.0,460.0 C342.7,461.8 345.3,463.8 348.0,465.0 C350.7,466.2 353.3,466.9 356.0,467.4 C358.7,467.9 361.3,468.2 364.0,468.0 C366.7,467.8 369.3,467.3 372.0,466.0 C374.7,464.7 377.3,462.8 380.0,460.0 C382.7,457.2 385.4,453.4 388.0,449.0 C390.6,444.6 393.3,438.0 395.4,433.6 C397.5,429.2 399.0,426.6 400.8,422.8 C402.6,419.0 404.4,414.7 406.2,410.7 C408.0,406.7 409.8,402.4 411.6,398.6 C413.4,394.8 415.2,391.0 417.0,387.8 C418.8,384.6 420.6,381.5 422.4,379.7 C424.2,377.9 426.0,377.4 427.8,377.0 C429.6,376.6 431.4,377.0 433.2,377.5 C435.0,378.0 436.8,378.5 438.6,380.2 C440.4,381.9 442.4,384.7 444.0,387.8 C445.6,390.9 446.7,394.8 448.0,398.6 C449.3,402.4 450.6,406.9 452.0,410.7 C453.4,414.5 454.8,417.7 456.1,421.5 C457.5,425.3 458.8,430.0 460.1,433.6 C461.5,437.2 462.9,440.4 464.2,443.1 C465.5,445.8 466.8,448.5 468.2,449.8 C469.6,451.1 470.9,451.4 472.3,451.2 C473.7,451.0 474.7,449.6 476.3,448.5 C477.9,447.4 479.9,445.6 481.7,444.4 C483.5,443.2 485.3,441.9 487.1,441.2 C488.9,440.5 490.7,440.3 492.5,440.4 C494.3,440.5 496.1,440.8 497.9,441.7 C499.7,442.6 501.5,444.7 503.3,445.8 C505.1,446.9 506.9,447.6 508.7,448.5 C510.5,449.4 512.7,450.5 514.1,451.2 C515.5,451.9 516.8,452.3 517.3,452.5" fill="none" stroke="#ff2a2a" stroke-width="1.1" stroke-dasharray="3.2 2.4"/>
<path d="M3.0,418.0 C3.8,419.0 6.2,422.2 8.0,424.0 C9.8,425.8 12.0,427.5 14.0,429.0 C16.0,430.5 17.8,431.8 20.0,433.0 C22.2,434.2 24.7,435.7 27.0,436.0 C29.3,436.3 31.8,435.3 34.0,434.6 C36.2,433.9 37.5,433.0 40.0,432.0 C42.5,431.0 46.7,428.8 49.0,428.6 C51.3,428.4 51.8,430.0 54.0,431.0 C56.2,432.0 59.5,433.8 62.0,434.6 C64.5,435.4 65.8,435.7 69.0,436.0 C72.2,436.3 77.8,437.1 81.0,436.4 C84.2,435.7 85.3,434.0 88.0,432.0 C90.7,430.0 93.5,425.9 97.0,424.6 C100.5,423.3 106.0,424.8 109.0,424.2 C112.0,423.6 113.0,422.7 115.0,421.0 C117.0,419.3 118.8,415.3 121.0,414.0 C123.2,412.7 125.5,413.6 128.0,413.0 C130.5,412.4 133.7,410.6 136.0,410.4 C138.3,410.2 139.7,410.7 142.0,411.6 C144.3,412.5 147.0,414.4 150.0,416.0 C153.0,417.6 157.2,420.1 160.0,421.0 C162.8,421.9 164.8,422.2 167.0,421.4 C169.2,420.6 170.8,417.9 173.0,416.0 C175.2,414.1 177.7,411.8 180.0,410.0 C182.3,408.2 185.0,405.6 187.0,405.0 C189.0,404.4 190.2,405.9 192.0,406.6 C193.8,407.3 196.2,409.1 198.0,409.4 C199.8,409.7 201.3,408.2 203.0,408.6 C204.7,409.0 206.2,410.6 208.0,412.0 C209.8,413.4 211.7,415.4 214.0,417.0 C216.3,418.6 219.5,420.6 222.0,421.6 C224.5,422.6 227.0,422.9 229.0,423.0 C231.0,423.1 232.2,421.7 234.0,422.0 C235.8,422.3 237.7,423.4 240.0,424.6 C242.3,425.8 245.3,428.2 248.0,429.4 C250.7,430.6 253.7,430.9 256.0,432.0 C258.3,433.1 260.3,434.8 262.0,436.0 C263.7,437.2 264.3,437.8 266.0,439.0 C267.7,440.2 269.8,441.8 272.0,443.0 C274.2,444.2 276.8,445.6 279.0,446.0 C281.2,446.4 283.2,446.6 285.0,445.6 C286.8,444.6 288.3,441.2 290.0,440.0 C291.7,438.8 293.2,438.8 295.0,438.6 C296.8,438.4 299.2,438.0 301.0,438.6 C302.8,439.2 303.8,440.3 306.0,442.0 C308.2,443.7 311.3,446.8 314.0,449.0 C316.7,451.2 319.3,452.8 322.0,455.0 C324.7,457.2 327.3,459.7 330.0,462.0 C332.7,464.3 335.3,467.2 338.0,469.0 C340.7,470.8 343.3,471.5 346.0,472.6 C348.7,473.7 351.3,475.8 354.0,475.4 C356.7,475.0 359.5,471.7 362.0,470.0 C364.5,468.3 366.8,467.0 369.0,465.0 C371.2,463.0 373.2,461.0 375.0,458.0 C376.8,455.0 378.2,451.5 380.0,447.0 C381.8,442.5 384.0,436.3 386.0,431.0 C388.0,425.7 390.4,419.5 392.0,415.0 C393.6,410.5 393.9,408.1 395.4,404.0 C396.9,399.9 399.0,395.4 400.8,390.5 C402.6,385.6 404.4,379.2 406.2,374.3 C408.0,369.4 409.7,363.8 411.6,360.8 C413.5,357.9 415.7,356.8 417.4,356.6 C419.1,356.4 420.1,357.3 421.6,359.6 C423.1,361.9 424.7,366.8 426.4,370.2 C428.1,373.6 430.0,377.1 431.8,380.0 C433.6,382.9 435.6,384.0 437.4,387.8 C439.2,391.6 441.1,397.9 442.6,403.0 C444.1,408.1 445.2,412.0 446.4,418.5 C447.6,425.0 448.5,434.3 449.8,441.8 C451.1,449.3 452.8,457.9 454.3,463.3 C455.8,468.7 457.3,471.7 458.8,474.1 C460.3,476.5 461.8,477.6 463.3,477.6 C464.8,477.6 466.3,477.3 467.8,474.1 C469.3,470.9 470.8,463.2 472.3,458.2 C473.8,453.1 475.2,447.7 476.8,443.8 C478.4,439.9 480.4,437.0 482.2,435.0 C484.0,433.0 486.0,431.9 487.6,432.0 C489.2,432.1 490.5,433.4 492.0,435.4 C493.5,437.4 494.9,441.2 496.5,444.2 C498.1,447.2 500.2,451.0 501.9,453.3 C503.5,455.6 504.9,457.6 506.4,458.2 C507.9,458.8 509.0,457.5 510.9,457.2 C512.8,456.9 516.5,456.3 517.6,456.1" fill="none" stroke="#2222ff" stroke-width="1.05" stroke-linejoin="round"/>
<g fill="#111">
<rect x="2" y="38.3" width="653.5" height="1.2"/>
<rect x="2" y="38.4" width="1.1" height="446.6"/>
<rect x="654.9" y="38.4" width="1.1" height="446.6"/>
<rect x="2" y="346.9" width="653.5" height="1"/>
<rect x="2" y="349" width="653.5" height="1"/>
<rect x="2" y="484" width="653.5" height="1"/>
</g>
<rect x="1" y="347.9" width="656" height="1.1" fill="#fff"/>
<g fill="#111">
<rect x="656" y="59.3" width="2.2" height="1"/>
<rect x="656" y="87.9" width="2.2" height="1"/>
<rect x="656" y="116.3" width="2.2" height="1"/>
<rect x="656" y="144.5" width="2.2" height="1"/>
<rect x="656" y="174.0" width="2.2" height="1"/>
<rect x="656" y="201.5" width="2.2" height="1"/>
<rect x="656" y="230.5" width="2.2" height="1"/>
<rect x="656" y="259.0" width="2.2" height="1"/>
<rect x="656" y="287.5" width="2.2" height="1"/>
<rect x="656" y="315.5" width="2.2" height="1"/>
<rect x="656" y="344.5" width="2.2" height="1"/>
<rect x="656" y="425.9" width="2.2" height="1"/>
<rect x="656" y="478.7" width="2.2" height="1"/>
<rect x="2.7" y="485" width="1" height="2.6"/>
<rect x="64.9" y="485" width="1" height="2.6"/>
<rect x="127.2" y="485" width="1" height="2.6"/>
<rect x="189.5" y="485" width="1" height="2.6"/>
<rect x="251.9" y="485" width="1" height="2.6"/>
<rect x="314.3" y="485" width="1" height="2.6"/>
<rect x="376.7" y="485" width="1" height="2.6"/>
<rect x="439.1" y="485" width="1" height="2.6"/>
<rect x="501.5" y="485" width="1" height="2.6"/>
</g>
<text class="ax" x="661.7" y="62.9" textLength="31.2" lengthAdjust="spacingAndGlyphs">1.14795</text>
<text class="ax" x="661.7" y="91.5" textLength="31.2" lengthAdjust="spacingAndGlyphs">1.13945</text>
<text class="ax" x="661.7" y="119.9" textLength="31.2" lengthAdjust="spacingAndGlyphs">1.13070</text>
<text class="ax" x="661.7" y="148.1" textLength="31.2" lengthAdjust="spacingAndGlyphs">1.12220</text>
<text class="ax" x="661.7" y="205.1" textLength="31.2" lengthAdjust="spacingAndGlyphs">1.10495</text>
<text class="ax" x="661.7" y="234.1" textLength="31.2" lengthAdjust="spacingAndGlyphs">1.09620</text>
<text class="ax" x="661.7" y="262.6" textLength="31.2" lengthAdjust="spacingAndGlyphs">1.08770</text>
<text class="ax" x="661.7" y="319.1" textLength="31.2" lengthAdjust="spacingAndGlyphs">1.07045</text>
<text class="ax" x="661.7" y="348.1" textLength="31.2" lengthAdjust="spacingAndGlyphs">1.06195</text>
<text class="ax" x="661.7" y="358.1" textLength="35.5" lengthAdjust="spacingAndGlyphs">0.011291</text>
<text class="ax" x="661.7" y="429.5" textLength="17" lengthAdjust="spacingAndGlyphs">0.00</text>
<text class="ax" x="660.5" y="482.3" textLength="38.5" lengthAdjust="spacingAndGlyphs">-0.008585</text>
<rect x="657" y="170.4" width="40" height="9" fill="#ff0000"/>
<text class="ax" x="661.7" y="178.0" textLength="31.2" lengthAdjust="spacingAndGlyphs" style="fill:#fff;stroke:#fff">1.11312</text>
<rect x="657" y="205.2" width="40" height="9" fill="#ff0000"/>
<text class="ax" x="661.7" y="212.8" textLength="31.2" lengthAdjust="spacingAndGlyphs" style="fill:#fff;stroke:#fff">1.10252</text>
<rect x="657" y="236.9" width="40" height="9" fill="#ff0000"/>
<text class="ax" x="661.7" y="244.5" textLength="31.2" lengthAdjust="spacingAndGlyphs" style="fill:#fff;stroke:#fff">1.09298</text>
<rect x="657" y="283.0" width="40" height="9" fill="#ff0000"/>
<text class="ax" x="661.7" y="290.6" textLength="31.2" lengthAdjust="spacingAndGlyphs" style="fill:#fff;stroke:#fff">1.07897</text>
<rect x="657" y="329.4" width="40" height="9" fill="#ff0000"/>
<text class="ax" x="661.7" y="337.0" textLength="31.2" lengthAdjust="spacingAndGlyphs" style="fill:#fff;stroke:#fff">1.06509</text>
<rect x="657" y="258.2" width="40" height="9" fill="#000"/>
<text class="ax" x="661.7" y="265.8" textLength="31.2" lengthAdjust="spacingAndGlyphs" style="fill:#fff;stroke:#fff">1.08659</text>
<text class="ax" x="2.3000000000000003" y="496.0" textLength="46" lengthAdjust="spacingAndGlyphs">7 Nov 2019</text>
<text class="ax" x="64.5" y="496.0" textLength="51" lengthAdjust="spacingAndGlyphs">26 Nov 2019</text>
<text class="ax" x="126.8" y="496.0" textLength="50" lengthAdjust="spacingAndGlyphs">15 Dec 2019</text>
<text class="ax" x="189.1" y="496.0" textLength="44.5" lengthAdjust="spacingAndGlyphs">2 Jan 2020</text>
<text class="ax" x="251.5" y="496.0" textLength="49" lengthAdjust="spacingAndGlyphs">21 Jan 2020</text>
<text class="ax" x="313.90000000000003" y="496.0" textLength="45.5" lengthAdjust="spacingAndGlyphs">9 Feb 2020</text>
<text class="ax" x="376.3" y="496.0" textLength="50.5" lengthAdjust="spacingAndGlyphs">27 Feb 2020</text>
<text class="ax" x="438.70000000000005" y="496.0" textLength="50.5" lengthAdjust="spacingAndGlyphs">17 Mar 2020</text>
<text class="ax" x="501.1" y="496.0" textLength="45" lengthAdjust="spacingAndGlyphs">5 Apr 2020</text>
<path d="M5.9,44.2 L13.1,44.2 L9.5,48.3 Z" fill="#111"/>
<text class="ax" x="18" y="49.2" textLength="61.5" lengthAdjust="spacingAndGlyphs">EURUSD,Daily</text>
<text class="ax" x="86.2" y="49.2" textLength="137" lengthAdjust="spacingAndGlyphs">1.08590 1.08792 1.08523 1.08659</text>
<text class="ax" x="7.4" y="360.0" textLength="191.5" lengthAdjust="spacingAndGlyphs">MACD(12,26,9) -0.004399 -0.003787 -0.000611</text>
<path d="M518.5,39.4 L528,39.4 L523.2,44 Z" fill="#111"/>
</svg></body></html>
